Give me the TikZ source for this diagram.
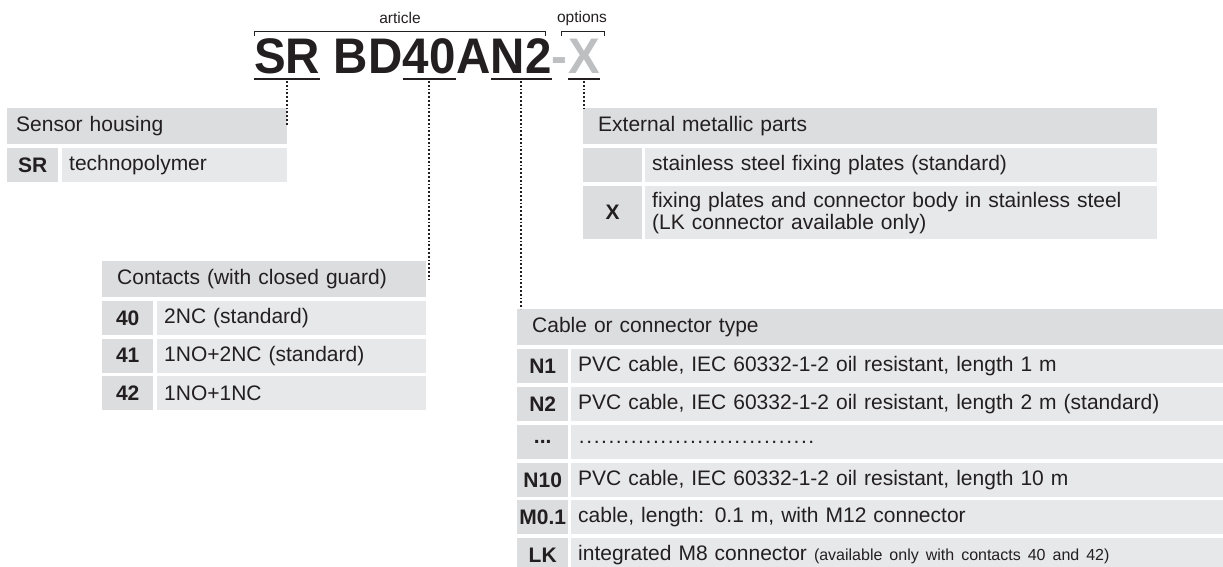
\documentclass[tikz,border=0pt]{standalone}
\usepackage{fontspec}
\setmainfont{Liberation Sans}
\newfontfamily\titlefont[FakeStretch=0.95]{Liberation Sans}
\usetikzlibrary{positioning}

\definecolor{ink}{RGB}{35,31,32}
\definecolor{hdrgray}{RGB}{220,221,222}
\definecolor{keygray}{RGB}{220,221,222}
\definecolor{valgray}{RGB}{231,232,233}
\definecolor{optgray}{RGB}{190,191,193}

\newcommand{\dotrun}{\hbox to 238pt{\leaders\hbox to 7.4pt{\hss.\hss}\hfill}}

\tikzset{
	hdr/.style={fill=hdrgray, anchor=north west, minimum height=36pt, inner xsep=15pt, inner ysep=0pt, align=left, font=\fontsize{21}{22}\selectfont},
	key/.style={fill=keygray, anchor=north west, minimum width=51pt, minimum height=34pt, inner sep=0pt, font=\fontsize{21}{22}\selectfont\bfseries},
	val/.style={fill=valgray, anchor=north west, minimum height=34pt, inner xsep=7pt, inner ysep=0pt, align=left, font=\fontsize{21}{22}\selectfont},
	ttl/.style={anchor=base west, inner sep=0pt, font=\titlefont\fontsize{50}{50}\selectfont\bfseries},
	uline/.style={line width=2pt},
	leader/.style={line width=1.8pt, dash pattern=on 1.8pt off 2pt},
	brk/.style={line width=0.9pt},
	tag/.style={inner sep=0pt, font=\fontsize{15.5}{16}\selectfont},
}

\begin{document}
\begin{tikzpicture}[x=1pt, y=-1pt, color=ink]
		\useasboundingbox (0,0) rectangle (1223,567);
		% code
		\node[ttl] (tSR) at (254,74) {SR};
		\node[ttl] (tBD) at (tSR.base east) {\ BD};
		\node[ttl] (t40) at (tBD.base east) {40};
		\node[ttl] (tA) at (t40.base east) {A};
		\node[ttl] (tN2) at (tA.base east) {N2};
		\node[ttl, text=optgray] (tDash) at (tN2.base east) {-};
		\node[ttl, text=optgray] (tX) at (tDash.base east) {X};
		\draw[uline] ([yshift=-5pt]tSR.base west) -- ([yshift=-5pt]tSR.base east);
		\draw[uline] ([yshift=-5pt]t40.base west) -- ([yshift=-5pt]t40.base east);
		\draw[uline] ([yshift=-5pt]tN2.base west) -- ([yshift=-5pt]tN2.base east);
		\draw[uline] ([yshift=-5pt]tX.base west) -- ([yshift=-5pt]tX.base east);
		\coordinate (uSR) at ([yshift=-7pt]tSR.base);
		\coordinate (u40) at ([yshift=-7pt]t40.base);
		\coordinate (uN2) at ([yshift=-7pt]tN2.base);
		\coordinate (uX) at ([yshift=-7pt]tX.base);
		% brackets
		\coordinate (aL) at (254,36);
		\coordinate (aR) at (545,36);
		\coordinate (oL) at (561,36);
		\coordinate (oR) at (604,36);
		\draw[brk] (aL) -- ++(0,-5) -| (aR);
		\draw[brk] (oL) -- ++(0,-5) -| (oR);
		\node[tag] (lArticle) at (400,18) {article};
		\node[tag] (lOptions) at (582,18) {options};
		% sensor housing
		\node[hdr, inner xsep=9pt, text width=262pt] (hHousing) at (7,108) {Sensor housing};
		\node[key] (kSR) at (7,148) {SR};
		\node[val, text width=211pt] (vSR) at (62,148) {technopolymer};
		% external metallic parts
		\node[hdr, text width=544pt] (hExt) at (583,108) {External metallic parts};
		\node[key, minimum width=59pt] (kStd) at (583,148) {};
		\node[val, text width=498pt] (vStd) at (645,148) {stainless steel fixing plates (standard)};
		\node[key, minimum width=59pt, minimum height=53pt] (kX) at (583,186) {X};
		\node[val, text width=498pt, minimum height=53pt] (vX) at (645,186) {fixing plates and connector body in stainless steel\\(LK connector available only)};
		% contacts
		\node[hdr, text width=294pt] (hContacts) at (102,261) {Contacts (with closed guard)};
		\node[key] (k40) at (102,301) {40};
		\node[val, text width=255pt] (v40) at (157,301) {2NC (standard)};
		\node[key] (k41) at (102,338.5) {41};
		\node[val, text width=255pt] (v41) at (157,338.5) {1NO+2NC (standard)};
		\node[key] (k42) at (102,376) {42};
		\node[val, text width=255pt] (v42) at (157,376) {1NO+1NC};
		% cable or connector
		\node[hdr, text width=676pt] (hCable) at (517,309) {Cable or connector type};
		\node[key] (kN1) at (517,349) {N1};
		\node[val, text width=638pt] (vN1) at (571,349) {PVC cable, IEC 60332-1-2 oil resistant, length 1 m};
		\node[key] (kN2) at (517,387) {N2};
		\node[val, text width=638pt] (vN2) at (571,387) {PVC cable, IEC 60332-1-2 oil resistant, length 2 m (standard)};
		\node[key] (kDots) at (517,425) {...};
		\node[val, text width=638pt] (vDots) at (571,425) {\dotrun};
		\node[key] (kN10) at (517,463) {N10};
		\node[val, text width=638pt] (vN10) at (571,463) {PVC cable, IEC 60332-1-2 oil resistant, length 10 m};
		\node[key] (kM01) at (517,500) {M0.1};
		\node[val, text width=638pt] (vM01) at (571,500) {cable, length: 0.1 m, with M12 connector};
		\node[key] (kLK) at (517,538) {LK};
		\node[val, text width=638pt] (vLK) at (571,538) {integrated M8 connector {\fontsize{16}{17}\selectfont(available only with contacts 40 and 42)}};
		% leaders
		\draw[leader] (uSR) -- (uSR |- hHousing.east);
		\draw[leader] (u40) -- (u40 |- hContacts.east);
		\draw[leader] (uN2) -- (uN2 |- hCable.north);
		\draw[leader] (uX) -- (uX |- hExt.north);
	\end{tikzpicture}
\end{document}
